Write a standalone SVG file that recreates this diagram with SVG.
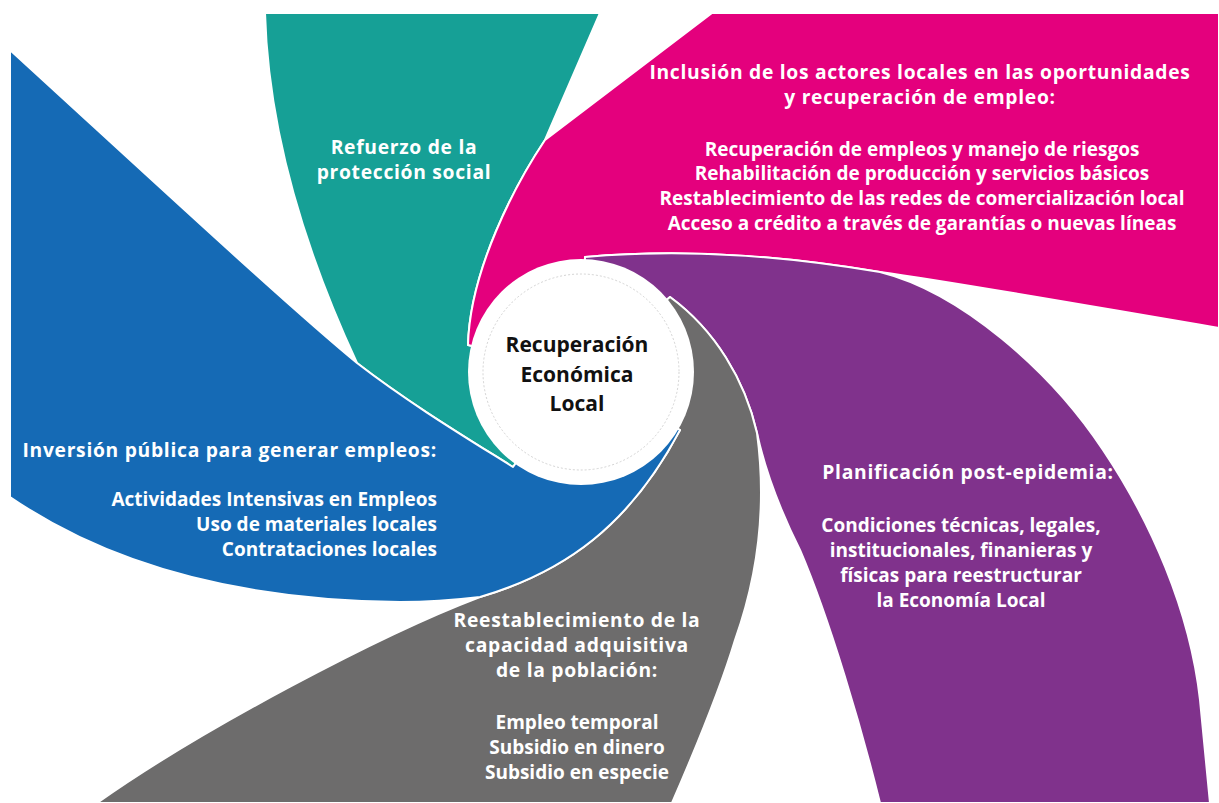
<svg xmlns="http://www.w3.org/2000/svg" width="1219" height="803" viewBox="0 0 1219 803">
<style>
.petal{stroke:#fff;stroke-width:2;stroke-linejoin:round}
.t{font-family:"Open Sans","Noto Sans","Liberation Sans",sans-serif;font-weight:700;font-size:19px;fill:#fff}
.h{font-size:19.3px;letter-spacing:0.7px}
.mid{text-anchor:middle}
.end{text-anchor:end}
.c{font-family:"Open Sans","Noto Sans","Liberation Sans",sans-serif;font-weight:700;font-size:21px;fill:#111;text-anchor:middle}
</style>
<rect width="1219" height="803" fill="#fff"/>
<g id="petal-teal">
<path class="petal" fill="#16a096" d="M468,345 C470,270 515,185 545,140 L600,13 L265,13 C268,120 300,240 357,363 C410,404 470,440 513,467 L581,372 Z"/>
<text class="t h mid"><tspan x="404" y="154">Refuerzo de la</tspan><tspan x="404" y="179">protección social</tspan></text>
</g>
<g id="petal-pink">
<path class="petal" fill="#e4007d" d="M468,345 C470,270 515,185 545,140 L712,13 L1219,13 L1219,328 C1100,308 960,283 880,272 C800,259 700,247 585,257 L581,372 Z"/>
<text class="t h mid"><tspan x="920" y="79">Inclusión de los actores locales en las oportunidades</tspan><tspan x="920" y="104">y recuperación de empleo:</tspan></text>
<text class="t mid"><tspan x="922" y="156">Recuperación de empleos y manejo de riesgos</tspan><tspan x="922" y="180">Rehabilitación de producción y servicios básicos</tspan><tspan x="922" y="205">Restablecimiento de las redes de comercialización local</tspan><tspan x="922" y="230">Acceso a crédito a través de garantías o nuevas líneas</tspan></text>
</g>
<g id="petal-purple">
<path class="petal" fill="#80328c" d="M585,257 C700,247 800,259 880,272 C960,292 1050,370 1103,450 C1150,520 1190,610 1200,700 L1210,803 L880,803 C862,730 830,620 800,550 C780,510 765,470 757,433 C745,380 715,330 670,297 L581,372 Z"/>
<text class="t h mid" x="968" y="479">Planificación post-epidemia:</text>
<text class="t mid"><tspan x="961" y="532">Condiciones técnicas, legales,</tspan><tspan x="961" y="557">institucionales, finanieras y</tspan><tspan x="961" y="582">físicas para reestructurar</tspan><tspan x="961" y="607">la Economía Local</tspan></text>
</g>
<g id="petal-gray">
<path class="petal" fill="#6d6c6c" d="M670,297 C715,330 745,380 757,433 C766,500 760,570 735,640 C720,690 695,750 672,803 L97,803 C200,730 380,635 480,597 C565,572 630,525 680,430 L581,372 Z"/>
<text class="t h mid"><tspan x="577" y="627">Reestablecimiento de la</tspan><tspan x="577" y="652">capacidad adquisitiva</tspan><tspan x="577" y="677">de la población:</tspan></text>
<text class="t mid"><tspan x="577" y="729">Empleo temporal</tspan><tspan x="577" y="754">Subsidio en dinero</tspan><tspan x="577" y="779">Subsidio en especie</tspan></text>
</g>
<g id="petal-blue">
<path class="petal" fill="#156ab5" d="M513,467 C470,440 410,404 357,363 C290,308 150,178 10,50 L10,497 C80,545 200,600 400,602 C430,602 455,600 480,597 C565,572 630,525 680,430 L581,372 Z"/>
<text class="t h end" x="437" y="457">Inversión pública para generar empleos:</text>
<text class="t end"><tspan x="437" y="506">Actividades Intensivas en Empleos</tspan><tspan x="437" y="531">Uso de materiales locales</tspan><tspan x="437" y="556">Contrataciones locales</tspan></text>
</g>
<g id="center">
<circle cx="581" cy="372" r="113" fill="#fff"/>
<circle cx="581" cy="372" r="98" fill="none" stroke="#c8c8c8" stroke-width="0.8" stroke-dasharray="2 2"/>
<text class="c"><tspan x="577" y="352">Recuperación</tspan><tspan x="577" y="382">Económica</tspan><tspan x="577" y="411">Local</tspan></text>
</g>
</svg>
